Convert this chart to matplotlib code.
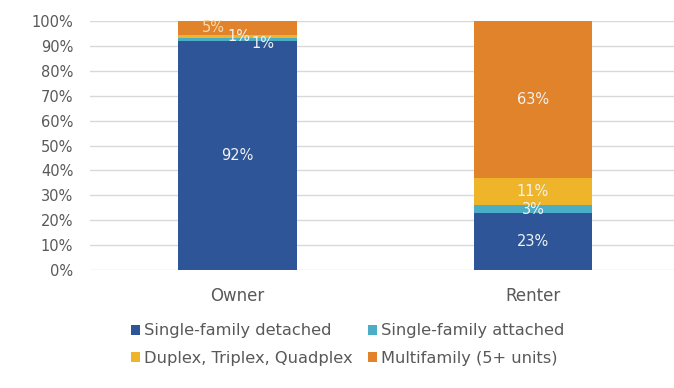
import matplotlib
matplotlib.use("Agg")
import matplotlib.pyplot as plt
from matplotlib.patches import Patch
import numpy as np

categories = ["Owner", "Renter"]
series_names = ["Single-family detached", "Single-family attached",
                "Duplex, Triplex, Quadplex", "Multifamily (5+ units)"]
owner_values = [91.8, 1.3, 1.4, 5.5]
renter_values = [23, 3, 11, 63]
owner_labels = ["92%", "1%", "1%", "5%"]
renter_labels = ["23%", "3%", "11%", "63%"]
colors = ["#2D5597", "#4BADC6", "#EEB42A", "#E0832A"]
yticks = [0, 10, 20, 30, 40, 50, 60, 70, 80, 90, 100]
ytick_labels = [f"{v}%" for v in yticks]

plt.rcParams['font.family'] = ['DejaVu Sans']
text_color = "#595959"

fig = plt.figure(figsize=(6.74, 3.88), dpi=100)
ax = fig.add_axes([0.1335, 0.304, 0.8665, 0.642])

x = np.arange(len(categories))
values = np.array([owner_values, renter_values]).T
bottom = np.zeros(len(categories))
for i, name in enumerate(series_names):
    ax.bar(x, values[i], 0.40, bottom=bottom, color=colors[i], label=name, zorder=3)
    bottom += values[i]

label_color = "#F2F2F2"
fs = 10.5
# Renter labels centred
rb = 0
for v, lab in zip(renter_values, renter_labels):
    ax.text(1, rb + v / 2, lab, ha="center", va="center", color=label_color, fontsize=fs, zorder=4)
    rb += v
# Owner labels (manually offset to avoid overlap)
ax.text(0, owner_values[0] / 2, owner_labels[0], ha="center", va="center", color=label_color, fontsize=fs, zorder=4)
ax.text(0.085, 91.0, owner_labels[1], ha="center", va="center", color=label_color, fontsize=fs, zorder=4)
ax.text(0.005, 93.6, owner_labels[2], ha="center", va="center", color=label_color, fontsize=fs, zorder=4)
ax.text(-0.083, 97.3, owner_labels[3], ha="center", va="center", color="#F8D9B0", fontsize=fs, zorder=4)

ax.set_ylim(0, 100)
ax.set_xlim(-0.499, 1.477)
ax.set_yticks(yticks)
ax.set_yticklabels(ytick_labels)
ax.set_xticks(x)
ax.set_xticklabels(categories)
ax.tick_params(axis="both", length=0, colors=text_color)
ax.tick_params(axis="y", pad=12, labelsize=10.5)
ax.tick_params(axis="x", pad=12, labelsize=12)
ax.yaxis.grid(True, color="#D9D9D9", linewidth=1.0, zorder=0)
for s in ax.spines.values():
    s.set_visible(False)

# legend order: row 1 = detached, attached; row 2 = duplex, multifamily (column-major fill)
order = [0, 2, 1, 3]
handles = [Patch(facecolor=colors[i], edgecolor="none") for i in order]
labels = [series_names[i] for i in order]
fig.legend(handles, labels, loc="center", bbox_to_anchor=(0.516, 0.112), ncol=2,
           frameon=False, fontsize=11.7, labelcolor=text_color,
           handlelength=0.55, handleheight=0.55, handletextpad=0.25,
           columnspacing=0.9, labelspacing=0.75)

fig.savefig("out.png", dpi=100)
